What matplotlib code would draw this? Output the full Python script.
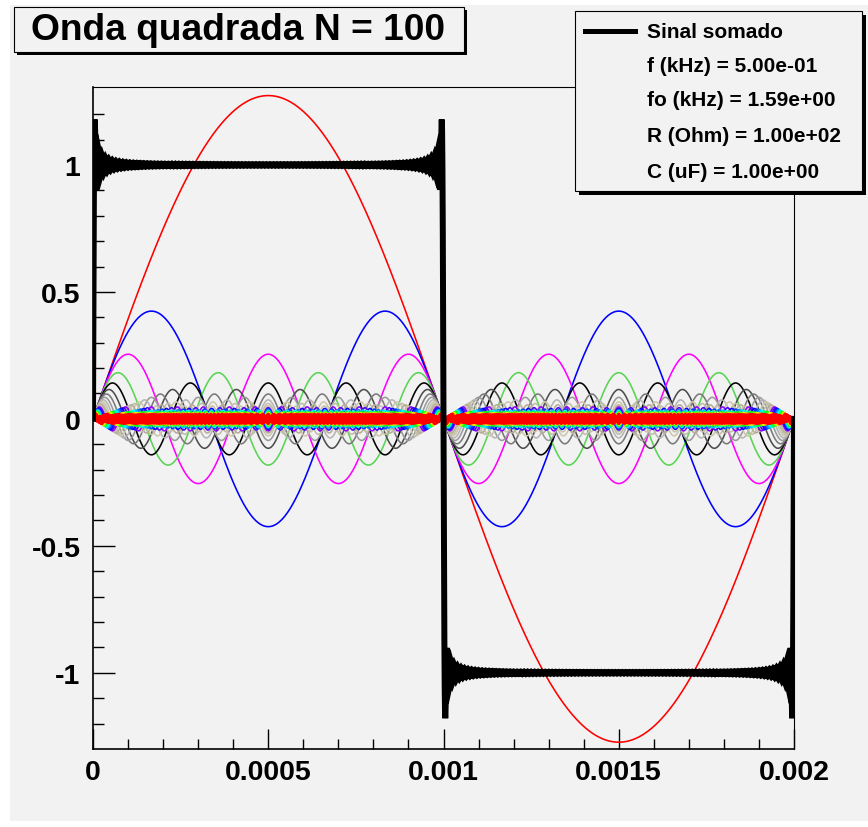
import numpy as np
import matplotlib
matplotlib.use("Agg")
import matplotlib.pyplot as plt
from matplotlib.patches import Rectangle
from matplotlib.lines import Line2D
import colorsys

# ---------------- data ----------------
title_text = "Onda quadrada N = 100"
f_hz = 500.0            # f (kHz) = 5.00e-01
n_terms = 100           # N = 100 odd harmonics
t_start, t_end = 0.0, 0.002
n_samples = 4001
harmonic_orders = np.arange(1, 2 * n_terms, 2)          # 1, 3, ..., 199
harmonic_amplitudes = 4.0 / (np.pi * harmonic_orders)     # square wave Fourier coefficients
legend_labels = ["Sinal somado", "f (kHz) = 5.00e-01", "fo (kHz) = 1.59e+00",
                 "R (Ohm) = 1.00e+02", "C (uF) = 1.00e+00"]
xticks = [0, 0.0005, 0.001, 0.0015, 0.002]
xticklabels = ["0", "0.0005", "0.001", "0.0015", "0.002"]
yticks = [-1, -0.5, 0, 0.5, 1]
yticklabels = ["-1", "-0.5", "0", "0.5", "1"]

# ---------------- styles ----------------
W, H = 868, 828
BG = "#f2f2f2"
FONT = "Liberation Sans"
first_colors = ["#ff0000", "#0000ff", "#ff00ff", "#59d454", "#000000",
                "#4d4d4d", "#7a7a7a", "#9a9a9a", "#b5b5b5",
                "#ccc7ab", "#c2bfa8", "#b8ab98", "#c9bfae"]
RAINBOW_END = 30


def harmonic_color(i):
    if i < len(first_colors):
        return first_colors[i]
    k0 = len(first_colors)
    if i <= RAINBOW_END:
        frac = (i - k0) / (RAINBOW_END - k0)
        r, g, b = colorsys.hsv_to_rgb(0.76 * (1 - frac), 1.0, 1.0)
        return (r, g, b)
    return "#ff0000"


def fx(px):
    return px / W


def fy(py):
    return 1 - py / H


fig = plt.figure(figsize=(W / 100, H / 100), dpi=100)
fig.patch.set_facecolor("white")
fig.patches.append(Rectangle((fx(10), fy(822)), fx(868) - fx(10), fy(6) - fy(822),
                             transform=fig.transFigure, facecolor=BG, edgecolor="none", zorder=-5))

ax = fig.add_axes([fx(93), fy(750), fx(794) - fx(93), fy(88) - fy(750)])
ax.set_zorder(1)
ax.set_facecolor(BG)

t = np.linspace(t_start, t_end, n_samples)
total = np.zeros_like(t)
for i, (n, a) in enumerate(zip(harmonic_orders, harmonic_amplitudes)):
    y = a * np.sin(2 * np.pi * n * f_hz * t)
    total += y
    ax.plot(t, y, color=harmonic_color(i), lw=1.15, zorder=2 + i * 0.001)

ax.plot(t, total, color="black", lw=4.3, zorder=5, solid_joinstyle="miter")

ax.set_xlim(t_start, t_end)
ax.set_ylim(-1.30, 1.307)
ax.set_xticks(xticks)
ax.set_xticklabels(xticklabels)
ax.set_yticks(yticks)
ax.set_yticklabels(yticklabels)
ax.set_xticks(np.arange(0, 0.00201, 0.0001), minor=True)
ax.set_yticks(np.arange(-1.2, 1.21, 0.1), minor=True)
ax.tick_params(axis="x", which="major", direction="in", length=14.5, width=1, pad=7)
ax.tick_params(axis="x", which="minor", direction="in", length=7, width=1)
ax.tick_params(axis="y", which="major", direction="in", length=15.5, width=1, pad=9)
ax.tick_params(axis="y", which="minor", direction="in", length=8, width=1)
for lab in ax.get_xticklabels() + ax.get_yticklabels():
    lab.set_fontfamily(FONT)
    lab.set_fontweight("bold")
    lab.set_fontsize(20.5)
for side in ["top", "right"]:
    ax.spines[side].set_linewidth(0.8)
for side in ["left", "bottom"]:
    ax.spines[side].set_linewidth(1.2)


def pave(x0, y0, x1, y1, shadow):
    fig.patches.append(Rectangle((fx(x0 + shadow), fy(y1 + shadow)), fx(x1) - fx(x0), fy(y0) - fy(y1),
                                 transform=fig.transFigure, facecolor="black", edgecolor="none", zorder=20))
    fig.patches.append(Rectangle((fx(x0), fy(y1)), fx(x1) - fx(x0), fy(y0) - fy(y1),
                                 transform=fig.transFigure, facecolor=BG, edgecolor="black",
                                 lw=0.8, zorder=21))


# title pave
pave(14, 8, 464, 53, 3)
fig.text(fx(238), fy(31), title_text, ha="center", va="center", fontsize=26.7,
         fontweight="bold", family=FONT, zorder=22)

# legend pave
pave(575, 12, 862, 192, 4)
fig.lines.append(Line2D([fx(585), fx(635)], [fy(32), fy(32)], transform=fig.transFigure,
                        color="black", lw=3.6, zorder=22))
row_y = [32, 67, 101, 136, 173]
for lab, yy in zip(legend_labels, row_y):
    fig.text(fx(647), fy(yy), lab, ha="left", va="center", fontsize=15,
             fontweight="bold", family=FONT, zorder=22)

fig.savefig("out.png", dpi=100, facecolor=fig.get_facecolor())
